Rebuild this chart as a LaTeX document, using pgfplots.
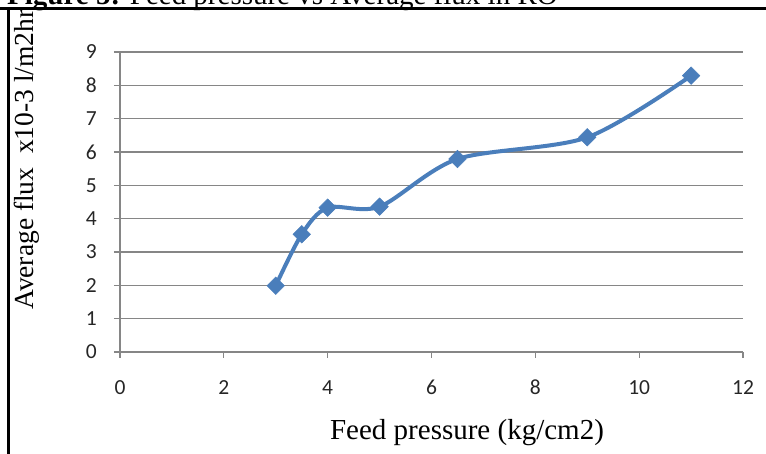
\documentclass[border=0pt]{standalone}
\usepackage{pgfplots}
\pgfplotsset{compat=1.18}
\usepackage{fontspec}
\setmainfont{Liberation Serif}
\newfontfamily\calibri{Carlito}
\definecolor{exblue}{RGB}{74,126,187}
\definecolor{exgrid}{RGB}{134,134,134}
\begin{document}
\begin{tikzpicture}[x=1pt,y=1pt]
\begin{axis}[
  at={(120pt,102pt)}, anchor=south west,
  width=623pt, height=300pt, scale only axis,
  xmin=0, xmax=12, ymin=0, ymax=9,
  xtick={0,2,...,12}, ytick={0,...,9},
  axis x line*=bottom, axis y line*=left,
  axis line style={exgrid, line width=1.2pt},
  ymajorgrids, grid style={exgrid, line width=1.2pt},
  tick align=outside, major tick length=6pt,
  tick style={exgrid, line width=1.2pt},
  /pgf/number format/assume math mode=true,
  ticklabel style={font=\calibri\fontsize{21.5}{24}\selectfont, text=black!85, inner sep=0pt},
  yticklabel style={anchor=east, xshift=-17pt},
  xticklabel style={anchor=north, yshift=-22pt},
  clip=false,
]
\addplot[color=exblue, line width=4pt, smooth, tension=0.5,
  mark=square*, mark size=6.2pt, mark options={rotate=45, fill=exblue, draw=exblue, line width=0.5pt}]
  coordinates {(3,1.99) (3.5,3.53) (4,4.33) (5,4.36) (6.5,5.79) (9,6.44) (11,8.29)};
\end{axis}
% x label
\node[anchor=base, inner sep=0pt, font=\fontsize{29}{34}\selectfont] at (467,14) {Feed pressure (kg/cm2)};
% y label (clipped at the frame)
\begin{scope}
\clip (0,0) rectangle (766,444);
\node[anchor=base west, rotate=90, inner sep=0pt, font=\fontsize{27.5}{32}\selectfont] at (33,144) {Average flux\ \ x10-3 l/m2hr};
\end{scope}
% title, mostly cut off above
\node[anchor=base west, inner sep=0pt, font=\fontsize{29}{34}\selectfont] at (7,449) {\textbf{Figure 5:} Feed pressure vs Average flux in RO};
% frame
\draw[line width=3pt, black] (0,445) -- (766,445);
\draw[line width=3pt, black] (8,446.5) -- (8,0);
\pgfresetboundingbox
\useasboundingbox (0,0) rectangle (766,454);
\end{tikzpicture}
\end{document}
